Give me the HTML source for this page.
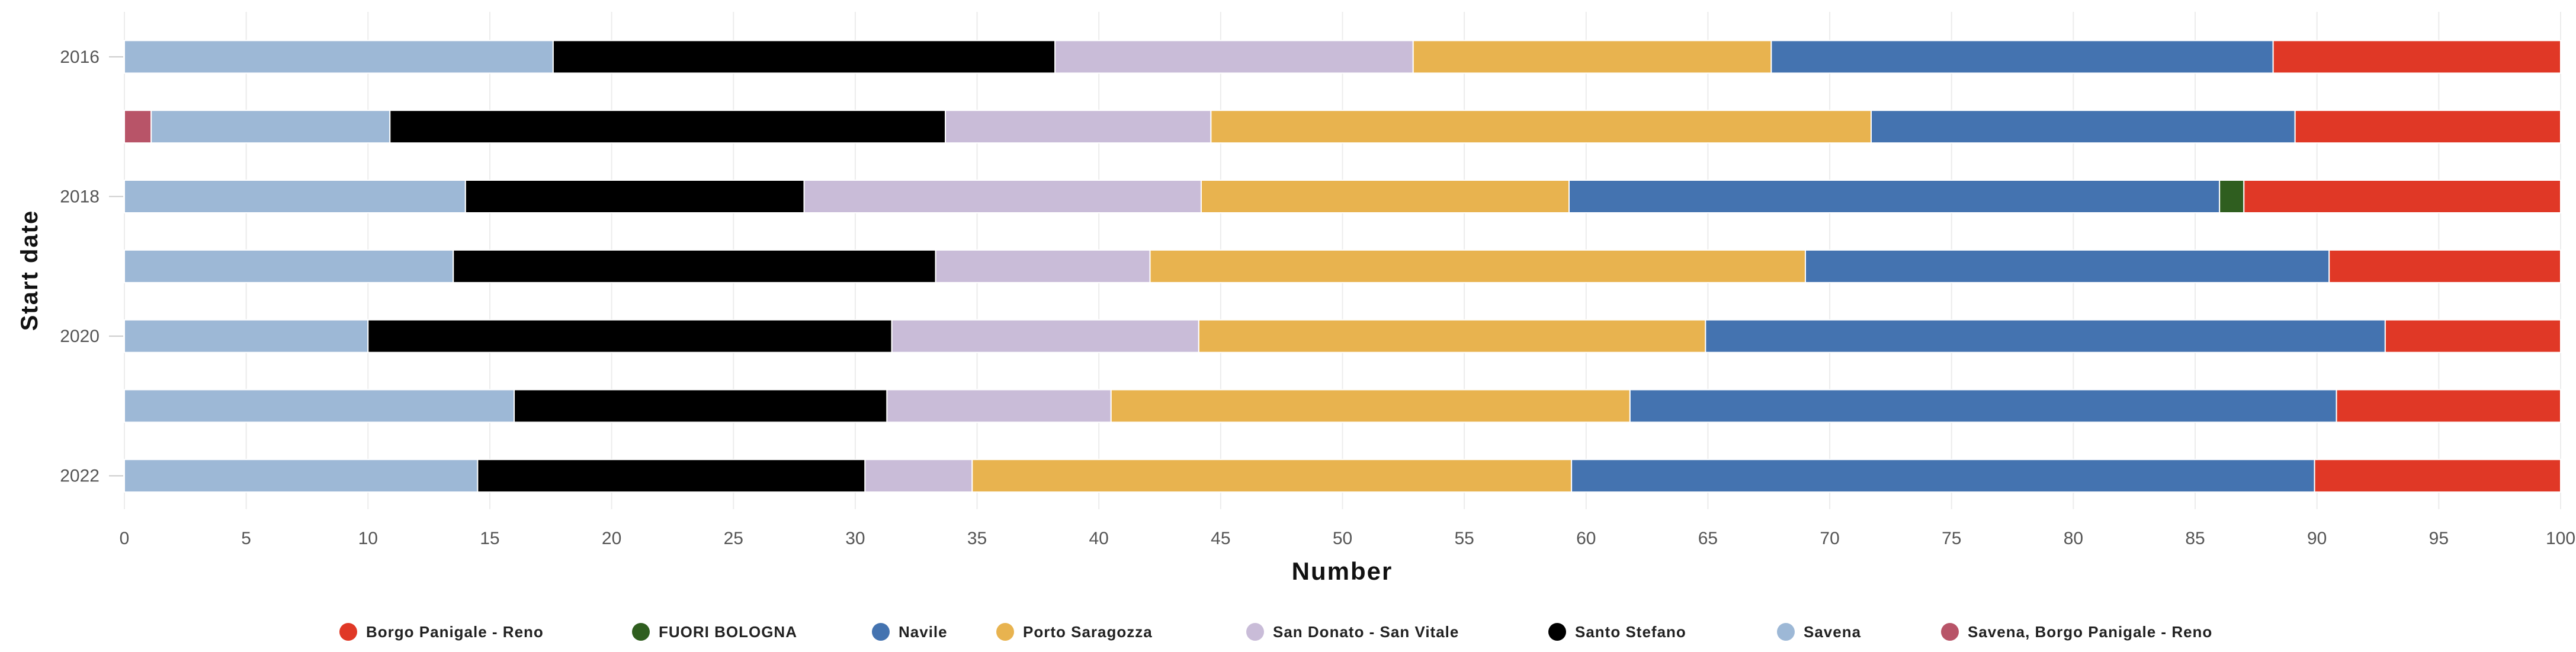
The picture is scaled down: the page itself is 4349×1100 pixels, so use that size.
<!DOCTYPE html>
<html><head><meta charset="utf-8"><style>
html,body{margin:0;padding:0;background:#fff;width:4349px;height:1100px;overflow:hidden}
svg text{font-family:"Liberation Sans",sans-serif}
</style></head><body>
<svg id="chart" width="4349" height="1100" xmlns="http://www.w3.org/2000/svg">
<g id="grid"></g>
<g id="bars"></g>
<g id="xaxis"></g>
<g id="yaxis"></g>
<text x="2266" y="978" text-anchor="middle" font-size="42" font-weight="bold" fill="#111" letter-spacing="2">Number</text>
<text x="0" y="0" transform="translate(63,456) rotate(-90)" text-anchor="middle" font-size="40" font-weight="bold" fill="#111" letter-spacing="2">Start date</text>
<g id="legend"></g>
</svg>
<script>
const years = ["2016","2017","2018","2019","2020","2021","2022"];
const seriesNames = ["Savena, Borgo Panigale - Reno","Savena","Santo Stefano","San Donato - San Vitale","Porto Saragozza","Navile","FUORI BOLOGNA","Borgo Panigale - Reno"];
const seriesColors = ["#b85468","#9db8d6","#000000","#c9bcd8","#e8b34f","#4473b0","#2f5e1f","#e03826"];
const savenaBorgo = [0,1.1,0,0,0,0,0];
const savena = [17.6,9.8,14.0,13.5,10.0,16.0,14.5];
const santoStefano = [20.6,22.8,13.9,19.8,21.5,15.3,15.9];
const sanDonato = [14.7,10.9,16.3,8.8,12.6,9.2,4.4];
const portoSaragozza = [14.7,27.1,15.1,26.9,20.8,21.3,24.6];
const navile = [20.6,17.4,26.7,21.5,27.9,29.0,30.5];
const fuoriBologna = [0,0,1.0,0,0,0,0];
const borgoPanigale = [11.8,10.9,13.0,9.5,7.2,9.2,10.1];
const xTicks = [0,5,10,15,20,25,30,35,40,45,50,55,60,65,70,75,80,85,90,95,100];
const yTickLabels = ["2016","","2018","","2020","","2022"];
const legendOrder = ["Borgo Panigale - Reno","FUORI BOLOGNA","Navile","Porto Saragozza","San Donato - San Vitale","Santo Stefano","Savena","Savena, Borgo Panigale - Reno"];

const series = [savenaBorgo,savena,santoStefano,sanDonato,portoSaragozza,navile,fuoriBologna,borgoPanigale];
const NS="http://www.w3.org/2000/svg";
const X0=210, X1=4323, TOP=37, PITCH=117.8, BH=55, AXB=859;
const xs = v => X0 + (X1-X0)*v/100;
const yc = i => TOP + PITCH*i + PITCH/2;
function mk(tag, attrs, parent){const e=document.createElementNS(NS,tag);for(const k in attrs)e.setAttribute(k,attrs[k]);parent.appendChild(e);return e;}
const grid=document.getElementById('grid'), bars=document.getElementById('bars'), xa=document.getElementById('xaxis'), ya=document.getElementById('yaxis'), lg=document.getElementById('legend');
xTicks.forEach(t=>{
  const l=mk('line',{x1:xs(t),x2:xs(t),y1:20,y2:AXB,stroke:'#ececec','stroke-width':2},grid);
  
  
  const tx=mk('text',{x:xs(t),y:918,'text-anchor':'middle','font-size':30,fill:'#555'},xa);
  tx.textContent=t;
  
  
});
years.forEach((y,i)=>{
  let acc=0;
  series.forEach((s,k)=>{
    const v=s[i]; if(!v) return;
    const r=mk('rect',{x:xs(acc),y:yc(i)-BH/2,width:xs(acc+v)-xs(acc),height:BH,fill:seriesColors[k],stroke:'#fff','stroke-width':2},bars);
    
    
    acc+=v;
  });
  if(yTickLabels[i]){
    const tx=mk('text',{x:168,y:yc(i)+10,'text-anchor':'end','font-size':30,fill:'#555'},ya);
    tx.textContent=yTickLabels[i];
    
    
    mk('line',{x1:184,x2:208,y1:yc(i),y2:yc(i),stroke:'#ccc','stroke-width':2},ya);
  }
});
const legX=[588,1082,1487,1697,2119,2629,3015,3292];
legendOrder.forEach((n,i)=>{
  const k=seriesNames.indexOf(n);
  const g=mk('g',{},lg);
  
  
  mk('circle',{cx:legX[i],cy:1066,r:15,fill:seriesColors[k]},g);
  const t=mk('text',{x:legX[i]+30,y:1075,'font-size':26,'font-weight':'bold',fill:'#222','letter-spacing':1},g);
  t.textContent=n;
});
</script>
</body></html>
